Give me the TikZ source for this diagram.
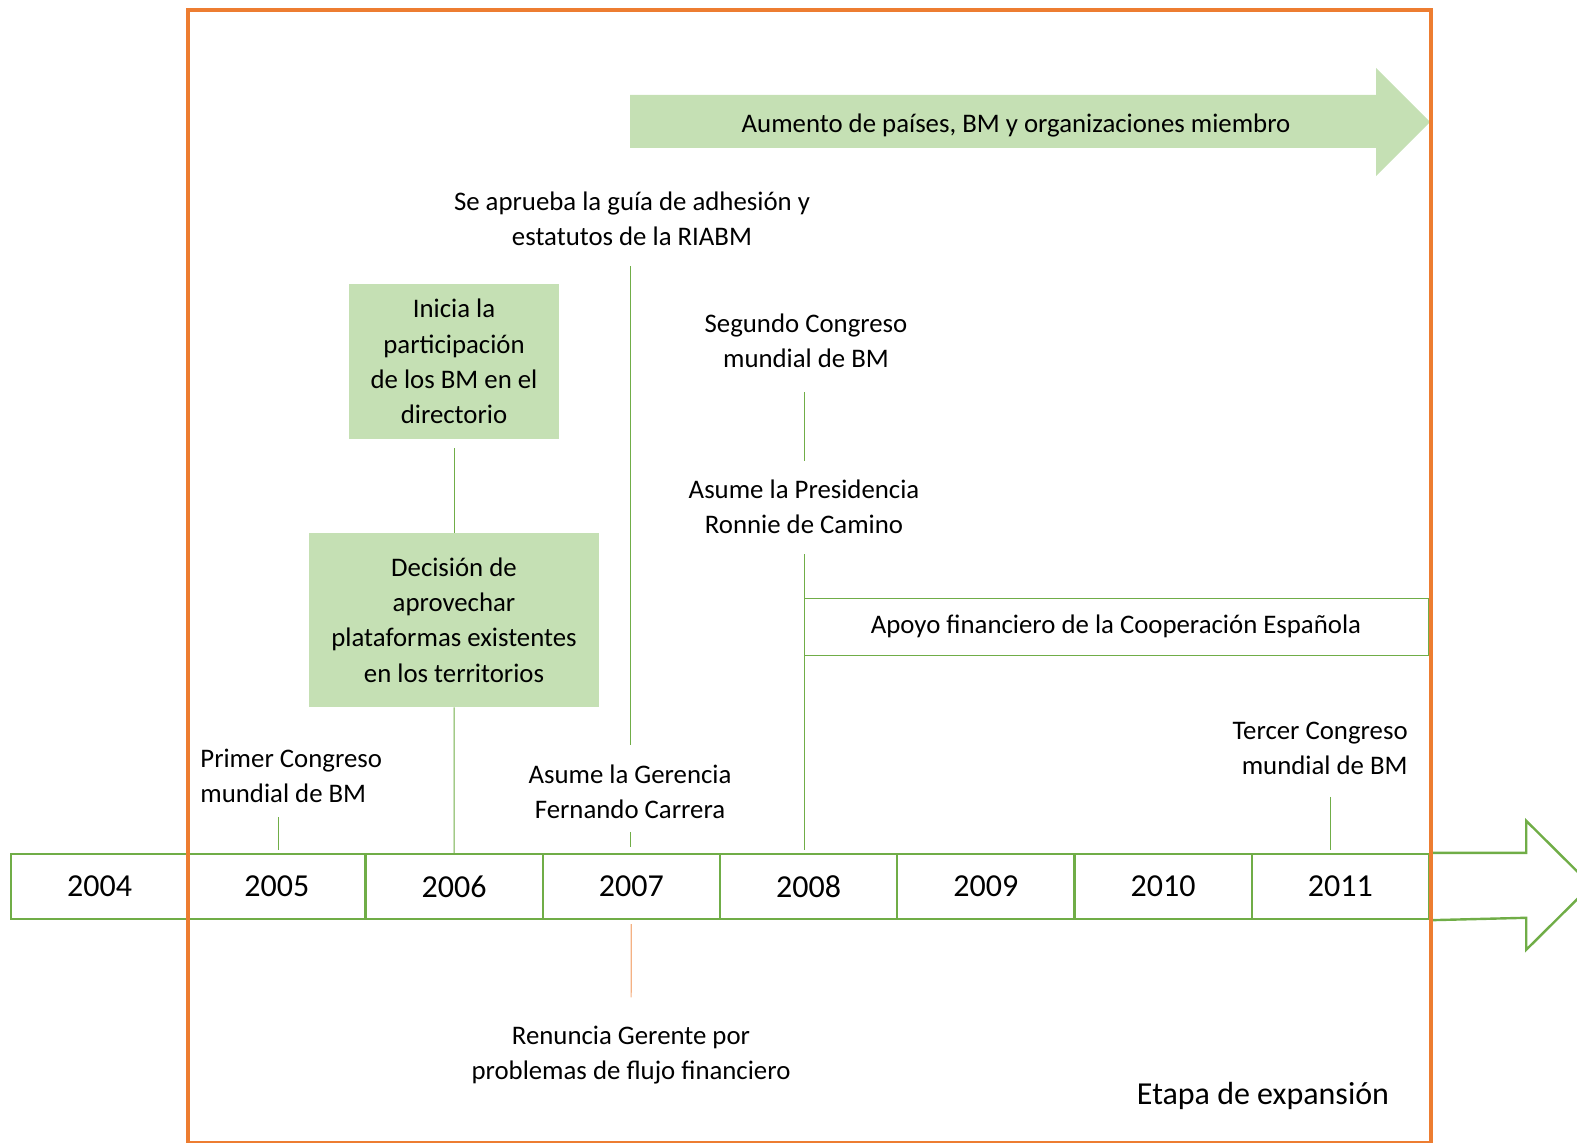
\documentclass[tikz,border=0pt]{standalone}
\usepackage{fontspec}
\setmainfont{Carlito}
\usepackage{tikz}
\definecolor{linegreen}{HTML}{70AD47}
\definecolor{boxgreen}{HTML}{C5E0B4}
\definecolor{frameorange}{HTML}{ED7D31}
\definecolor{paleorange}{HTML}{F4B183}

\begin{document}
\begin{tikzpicture}[x=0.5pt,y=-0.5pt,
  yearcell/.style={draw=linegreen,line width=1.2pt,minimum width=88.6pt,minimum height=32.5pt,inner sep=0pt,font=\fontsize{16}{20}\selectfont},
  event/.style={align=center,inner sep=2pt,font=\fontsize{13.4}{17.6}\selectfont},
  greenbox/.style={event,fill=boxgreen},
  link/.style={draw=linegreen,line width=0.5pt}]
  \useasboundingbox (0,0) rectangle (1577,1143);
  \clip (0,0) rectangle (1577,1143);

  % timeline
  \foreach \yr [count=\i from 0] in {2004,2005,2006,2007,2008,2009,2010,2011}
    \node[yearcell] (y\yr) at ({11+177.25*(\i+0.5)},886.5) {\yr};
  \draw[linegreen,line width=1.2pt] (y2011.north east) -- ++(96,0) -- ++(0,-32) -- ++(65,64.5)
    -- ++(-65,64.5) -- ++(0,-32) -- (y2011.south east);

  % growth arrow
  \fill[boxgreen] (630,95) -- (1376,95) -- (1376,68) -- (1430,122) -- (1376,176) -- (1376,148) -- (630,148) -- cycle;
  \node[event] (aumento) at (1016,126) {Aumento de países, BM y organizaciones miembro};

  \node[greenbox,minimum width=105pt,minimum height=77.5pt] (inicia) at (454,361.5)
    {Inicia la\\participación\\de los BM en el\\directorio};
  \node[greenbox,minimum width=145pt,minimum height=87pt] (decision) at (454,620)
    {Decisión de\\aprovechar\\plataformas existentes\\en los territorios};
  \node[event,draw=linegreen,line width=0.5pt,minimum width=312pt,minimum height=28.5pt] (apoyo) at (1116,626.5)
    {Apoyo financiero de la Cooperación Española};

  \node[event,align=left,anchor=west] (primer) at (196,776) {Primer Congreso\\mundial de BM};
  \node[event] (guia) at (632,219) {Se aprueba la guía de adhesión y\\estatutos de la RIABM};
  \node[event] (gerencia) at (630,792) {Asume la Gerencia\\Fernando Carrera};
  \node[event] (segundo) at (806,341) {Segundo Congreso\\mundial de BM};
  \node[event] (presidencia) at (804,507) {Asume la Presidencia\\Ronnie de Camino};
  \node[event,align=right,anchor=east] (tercer) at (1412,748) {Tercer Congreso\\mundial de BM};
  \node[event] (renuncia) at (631,1055) {Renuncia Gerente por\\problemas de flujo financiero};
  \node[font=\fontsize{16}{19}\selectfont] (etapa) at (1263,1096) {Etapa de expansión};

  \coordinate (tick2005) at (278,850);
  \coordinate (tick2011) at (1330,850);

  \draw[link,shorten <=5pt] (tick2005 |- primer.south) -- (tick2005);
  \draw[link,shorten <=4.5pt] (inicia) -- (decision);
  \draw[link] (decision) -- (y2006);
  \draw[link,shorten <=8pt,shorten >=8pt] (gerencia |- guia.south) -- (gerencia.north);
  \draw[link,shorten <=4.5pt,shorten >=3pt] (gerencia.south) -- (gerencia.south |- y2007.north);
  \draw[link,shorten <=10pt,shorten >=7.5pt] (presidencia |- segundo.south) -- (presidencia.north);
  \draw[link,shorten <=8pt,shorten >=1.5pt] (presidencia.south) -- (presidencia.south |- y2008.north);
  \draw[link,shorten <=9pt] (tick2011 |- tercer.south) -- (tick2011);
  \draw[paleorange,line width=0.6pt,shorten <=2pt,shorten >=12pt] (y2007) -- (renuncia);

  % stage frame
  \draw[frameorange,line width=1.6pt] (188,10) rectangle (1431,1143);
\end{tikzpicture}
\end{document}
